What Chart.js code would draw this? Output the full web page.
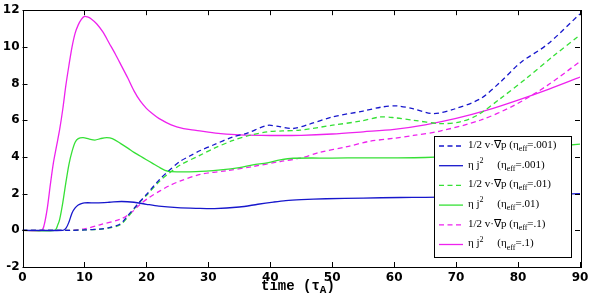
<!DOCTYPE html>
<html>
<head>
<meta charset="utf-8">
<script src="https://cdn.jsdelivr.net/npm/chart.js@4.4.1/dist/chart.umd.min.js"></script>
<style>
  html, body { margin: 0; padding: 0; background: #fff; }
  #wrap { width: 600px; height: 301px; }
</style>
</head>
<body>
<div id="wrap"><canvas id="energyChart" width="600" height="301"></canvas></div>
<script>
// tick labels
const xTicks = [0, 10, 20, 30, 40, 50, 60, 70, 80, 90];
const yTicks = [-2, 0, 2, 4, 6, 8, 10, 12];

// 1/2 v.grad p, eta_eff = .001 (blue dashed)
const tPressA = [0, 8, 10, 12.5, 14, 15.8, 17, 18.7, 20, 22.2, 23.8, 25.4, 27, 28.7, 30.8, 34, 36.3, 39.5, 41.5, 43.7, 46, 50, 55, 58, 60.5, 63, 66.3, 69.6, 73.9, 77.1, 80.4, 84.7, 90];
const vPressA = [0, 0, 0.02, 0.07, 0.15, 0.35, 0.8, 1.47, 1.95, 2.8, 3.3, 3.75, 4.05, 4.35, 4.65, 5.1, 5.3, 5.72, 5.65, 5.55, 5.75, 6.18, 6.5, 6.72, 6.78, 6.63, 6.36, 6.6, 7.17, 8.07, 9.14, 10.13, 11.8];
// eta j^2, eta_eff = .001 (blue solid)
const tOhmA = [0, 6.5, 7, 7.5, 8, 8.5, 9, 9.5, 10, 12, 14, 16, 18, 20, 22, 25, 28, 31, 35, 38, 40.5, 42.5, 45, 49, 55, 61, 65, 70, 75, 80, 85, 90];
const vOhmA = [0, 0, 0.1, 0.45, 0.95, 1.22, 1.38, 1.46, 1.5, 1.5, 1.53, 1.57, 1.53, 1.42, 1.32, 1.24, 1.2, 1.18, 1.27, 1.42, 1.54, 1.62, 1.67, 1.72, 1.76, 1.79, 1.8, 1.83, 1.87, 1.91, 1.95, 2.0];

// 1/2 v.grad p, eta_eff = .01 (green dashed)
const tPressB = [0, 8, 10, 12.5, 14, 15.8, 17, 18.7, 20, 22.2, 23.8, 25.4, 28.7, 30.8, 34, 37, 39.5, 42, 44.8, 50.1, 54.5, 57.8, 60, 63.1, 67.4, 70.5, 73.4, 77.1, 81.5, 85.7, 90];
const vPressB = [0, 0, 0.02, 0.06, 0.13, 0.3, 0.72, 1.45, 1.9, 2.7, 3.15, 3.55, 4.1, 4.45, 4.9, 5.2, 5.37, 5.42, 5.46, 5.73, 5.95, 6.18, 6.14, 6.0, 5.82, 5.9, 6.27, 7.17, 8.33, 9.5, 10.65];
// eta j^2, eta_eff = .01 (green solid)
const tOhmB = [0, 5.2, 5.7, 6, 6.5, 7, 7.5, 8, 8.5, 9, 9.8, 10.7, 11.7, 12.6, 13.6, 14.5, 15.8, 17, 18, 19, 20, 21, 22, 23, 24, 28, 32, 35, 37.2, 39.5, 41.6, 43.7, 50, 55, 60, 65, 70, 75, 80, 85, 90];
const vOhmB = [0, 0, 0.3, 0.6, 1.5, 2.6, 3.6, 4.3, 4.8, 5.0, 5.05, 4.98, 4.92, 5.0, 5.05, 5.0, 4.74, 4.48, 4.25, 4.05, 3.85, 3.65, 3.45, 3.27, 3.2, 3.2, 3.3, 3.42, 3.57, 3.68, 3.84, 3.93, 3.94, 3.95, 3.95, 3.97, 4.05, 4.2, 4.4, 4.55, 4.7];

// 1/2 v.grad p, eta_eff = .1 (magenta dashed)
const tPressC = [0, 7.7, 10, 12.5, 15.8, 17.5, 19, 20.5, 22.2, 23.8, 25.4, 28.7, 33, 37.2, 41.6, 44.8, 48, 52.4, 56, 60, 63.1, 67.4, 73.9, 79.3, 84.7, 90];
const vPressC = [0, 0, 0.08, 0.3, 0.61, 0.95, 1.42, 1.8, 2.15, 2.45, 2.68, 3.05, 3.25, 3.48, 3.75, 3.93, 4.25, 4.56, 4.85, 5.02, 5.17, 5.41, 6.0, 6.8, 7.89, 9.2];
// eta j^2, eta_eff = .1 (magenta solid)
const tOhmC = [0, 3.1, 3.5, 4, 4.5, 5, 5.5, 6, 6.5, 7, 7.5, 8, 8.5, 9, 9.5, 10, 10.5, 11, 12, 13, 14, 15, 16, 17, 18, 19, 20, 21, 22, 24, 26, 28, 30, 32, 35, 40, 45, 50, 55, 60, 65, 70, 75, 80, 85, 90];
const vOhmC = [0, 0, 0.3, 1.2, 2.5, 3.7, 4.6, 5.5, 6.6, 7.9, 9.0, 10.0, 10.75, 11.2, 11.5, 11.66, 11.63, 11.55, 11.25, 10.8, 10.2, 9.6, 8.95, 8.3, 7.6, 7.05, 6.65, 6.35, 6.1, 5.75, 5.55, 5.45, 5.35, 5.27, 5.2, 5.17, 5.18, 5.25, 5.37, 5.5, 5.75, 6.1, 6.55, 7.1, 7.7, 8.35];

const BLUE = '#1717cc';
const GREEN = '#36e036';
const MAGENTA = '#ee22ee';
const DASH = [5, 3.5];

function toPoints(ts, vs) {
  return ts.map((t, i) => ({ x: t, y: vs[i] }));
}

function series(ts, vs, color, dashed) {
  return {
    data: toPoints(ts, vs),
    borderColor: color,
    backgroundColor: color,
    borderWidth: 1.3,
    borderDash: dashed ? DASH : [],
    pointRadius: 0,
    fill: false,
    tension: 0.3,
  };
}

// legend rows: [color, dashed, pieces]; piece = [text, 'sub'|'sup'|null]
const legendRows = [
  [BLUE, true, [['1/2 v\u00b7\u2207p (\u03b7', null], ['eff', 'sub'], ['=.001)', null]]],
  [BLUE, false, [['\u03b7 j', null], ['2', 'sup'], ['     (\u03b7', null], ['eff', 'sub'], ['=.001)', null]]],
  [GREEN, true, [['1/2 v\u00b7\u2207p (\u03b7', null], ['eff', 'sub'], ['=.01)', null]]],
  [GREEN, false, [['\u03b7 j', null], ['2', 'sup'], ['     (\u03b7', null], ['eff', 'sub'], ['=.01)', null]]],
  [MAGENTA, true, [['1/2 v\u00b7\u2207p (\u03b7', null], ['eff', 'sub'], ['=.1)', null]]],
  [MAGENTA, false, [['\u03b7 j', null], ['2', 'sup'], ['     (\u03b7', null], ['eff', 'sub'], ['=.1)', null]]],
];

function drawPieces(ctx, x, y, pieces, size, family, weight) {
  ctx.textBaseline = 'middle';
  ctx.textAlign = 'left';
  pieces.forEach(([txt, mode]) => {
    let fs = size, dy = 0;
    if (mode === 'sub') { fs = Math.round(size * 0.75); dy = 4; }
    if (mode === 'sup') { fs = Math.round(size * 0.75); dy = -4; }
    ctx.font = (weight || 'normal') + ' ' + fs + 'px ' + family;
    ctx.fillText(txt, x, y + dy);
    x += ctx.measureText(txt).width;
  });
  return x;
}

// frame with inward ticks, legend box and x title
const decorPlugin = {
  id: 'decor',
  afterDatasetsDraw(chart) {
    const ctx = chart.ctx;
    const a = chart.chartArea;
    const xs = chart.scales.x, ys = chart.scales.y;
    ctx.save();
    ctx.strokeStyle = '#000';
    ctx.lineWidth = 1;
    ctx.strokeRect(Math.round(a.left) + 0.5, Math.round(a.top) + 0.5, Math.round(a.right - a.left), Math.round(a.bottom - a.top));
    ctx.beginPath();
    xTicks.forEach(v => {
      const px = Math.round(xs.getPixelForValue(v)) + 0.5;
      ctx.moveTo(px, a.bottom); ctx.lineTo(px, a.bottom - 5);
      ctx.moveTo(px, a.top); ctx.lineTo(px, a.top + 5);
    });
    yTicks.forEach(v => {
      const py = Math.round(ys.getPixelForValue(v)) + 0.5;
      ctx.moveTo(a.left, py); ctx.lineTo(a.left + 5, py);
      ctx.moveTo(a.right, py); ctx.lineTo(a.right - 5, py);
    });
    ctx.stroke();

    // legend
    const lx = 434.5, ly = 136.5, lw = 137, lh = 121;
    ctx.fillStyle = '#fff';
    ctx.fillRect(lx, ly, lw, lh);
    ctx.strokeStyle = '#000';
    ctx.strokeRect(lx, ly, lw, lh);
    legendRows.forEach(([color, dashed, pieces], i) => {
      const ry = 146 + i * 19.7;
      ctx.strokeStyle = color;
      ctx.lineWidth = 1.3;
      ctx.setLineDash(dashed ? DASH : []);
      ctx.beginPath();
      ctx.moveTo(439, ry); ctx.lineTo(463, ry);
      ctx.stroke();
      ctx.setLineDash([]);
      ctx.fillStyle = '#000';
      drawPieces(ctx, 468, ry - 1, pieces, 11, '"Liberation Serif", serif');
    });

    // x axis title
    ctx.fillStyle = '#000';
    drawPieces(ctx, 261, 286, [['time (\u03c4', null], ['A', 'sub'], [')', null]], 14, '"Liberation Mono", monospace', 'bold');
    ctx.restore();
  },
};

const tickFont = { family: '"DejaVu Sans", sans-serif', size: 12, weight: 'bold' };

new Chart(document.getElementById('energyChart').getContext('2d'), {
  type: 'line',
  data: {
    datasets: [
      series(tPressA, vPressA, BLUE, true),
      series(tOhmA, vOhmA, BLUE, false),
      series(tPressB, vPressB, GREEN, true),
      series(tOhmB, vOhmB, GREEN, false),
      series(tPressC, vPressC, MAGENTA, true),
      series(tOhmC, vOhmC, MAGENTA, false),
    ],
  },
  options: {
    responsive: false,
    animation: false,
    layout: { padding: { left: 0, right: 20, top: 7, bottom: 0 } },
    plugins: { legend: { display: false }, tooltip: { enabled: false } },
    scales: {
      x: {
        type: 'linear',
        min: 0,
        max: 90,
        afterBuildTicks: s => { s.ticks = xTicks.map(v => ({ value: v })); },
        afterFit: s => { s.height = 34; },
        grid: { display: false, drawTicks: false },
        border: { display: false },
        ticks: { color: '#000', font: tickFont, padding: 4, maxRotation: 0 },
      },
      y: {
        min: -2,
        max: 12,
        afterBuildTicks: s => { s.ticks = yTicks.map(v => ({ value: v })); },
        afterFit: s => { s.width = 22.5; },
        grid: { display: false, drawTicks: false },
        border: { display: false },
        ticks: { color: '#000', font: tickFont, padding: 3 },
      },
    },
  },
  plugins: [decorPlugin],
});
</script>
</body>
</html>
